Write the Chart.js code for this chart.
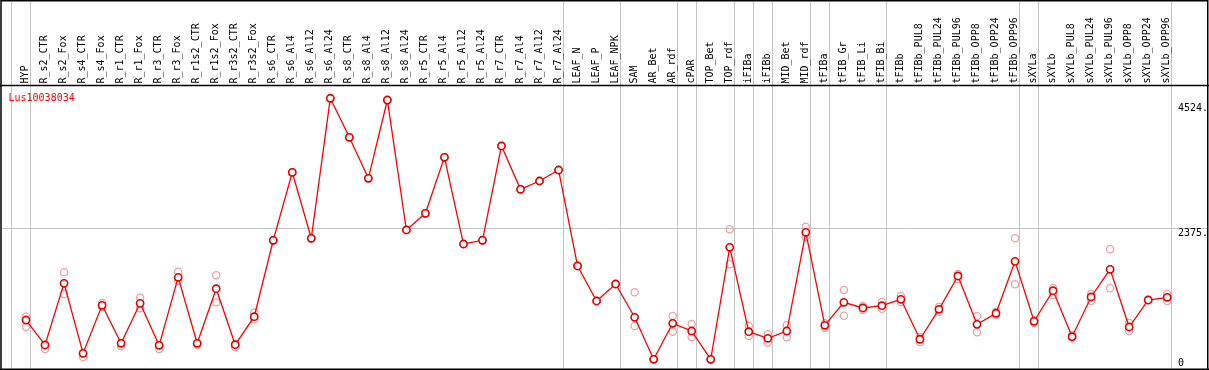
<!DOCTYPE html>
<html><head><meta charset="utf-8">
<script src="https://cdn.jsdelivr.net/npm/chart.js@4/dist/chart.umd.min.js"></script>
<style>html,body{margin:0;padding:0;background:#fff;overflow:hidden}canvas{display:block}</style>
</head><body>
<canvas id="c" width="1209" height="370"></canvas>
<script>
const categories = ['HYP','R_s2_CTR','R_s2_Fox','R_s4_CTR','R_s4_Fox','R_r1_CTR','R_r1_Fox','R_r3_CTR','R_r3_Fox','R_r1s2_CTR','R_r1s2_Fox','R_r3s2_CTR','R_r3s2_Fox','R_s6_CTR','R_s6_Al4','R_s6_Al12','R_s6_Al24','R_s8_CTR','R_s8_Al4','R_s8_Al12','R_s8_Al24','R_r5_CTR','R_r5_Al4','R_r5_Al12','R_r5_Al24','R_r7_CTR','R_r7_Al4','R_r7_Al12','R_r7_Al24','LEAF_N','LEAF_P','LEAF_NPK','SAM','AR_Bet','AR_rdf','cPAR','TOP_Bet','TOP_rdf','iFIBa','iFIBb','MID_Bet','MID_rdf','tFIBa','tFIB_Gr','tFIB_Li','tFIB_Bi','tFIBb','tFIBb_PUL8','tFIBb_PUL24','tFIBb_PUL96','tFIBb_OPP8','tFIBb_OPP24','tFIBb_OPP96','sXYLa','sXYLb','sXYLb_PUL8','sXYLb_PUL24','sXYLb_PUL96','sXYLb_OPP8','sXYLb_OPP24','sXYLb_OPP96'];
const meanValues = [799,370,1430,227,1052,399,1086,364,1533,399,1337,375,856,2170,3338,2204,4611,3940,3235,4581,2347,2634,3596,2106,2170,3791,3046,3189,3378,1728,1126,1418,846,124,743,610,124,2049,598,485,610,2307,708,1104,1006,1045,1155,468,983,1556,725,915,1808,777,1303,512,1195,1671,679,1143,1190];
const rep1 = [856,370,1619,232,1092,404,1183,370,1630,404,1568,387,925,2170,3338,2204,4611,3940,3235,4581,2347,2634,3596,2106,2170,3791,3046,3189,3378,1728,1126,1418,1276,124,868,731,124,2359,696,554,708,2403,743,1315,1040,1109,1212,507,1023,1590,868,937,2204,799,1350,542,1246,2015,748,1143,1246];
const rep2 = [684,301,1246,163,1023,352,1000,301,1475,370,1104,335,811,2170,3338,2204,4611,3940,3235,4581,2347,2634,3596,2106,2170,3791,3046,3189,3378,1728,1126,1418,696,124,598,502,124,1757,524,409,502,2221,667,873,971,994,1109,421,937,1504,588,885,1413,748,1229,490,1126,1344,610,1143,1126];
const groupStarts = [0,1,29,32,35,36,38,39,40,42,43,46,53,54,61];
const gridValues = [2375];
const yTicks = [0, 2375, 4524];
const yTickLabels = ['0', '2375.', '4524.'];
const geneName = 'Lus10038034';

const FONT = '10px "DejaVu Sans Mono", "Liberation Mono", monospace';

const decor = {
  id: 'decor',
  beforeDatasetsDraw(chart) {
    const ctx = chart.ctx, xs = chart.scales.x, ys = chart.scales.y, a = chart.chartArea;
    ctx.save();
    ctx.strokeStyle = '#c4c4c4';
    ctx.lineWidth = 1;
    gridValues.forEach(v => {
      const py = Math.round(ys.getPixelForValue(v)) + 0.5;
      ctx.beginPath(); ctx.moveTo(a.left, py); ctx.lineTo(a.right, py); ctx.stroke();
    });
    groupStarts.forEach(i => {
      const px = Math.round(xs.getPixelForValue(i) - 15) + 0.5;
      ctx.beginPath(); ctx.moveTo(px, 0); ctx.lineTo(px, a.bottom); ctx.stroke();
    });
    ctx.restore();
  },
  afterDraw(chart) {
    const ctx = chart.ctx, xs = chart.scales.x, ys = chart.scales.y, a = chart.chartArea;
    ctx.save();
    ctx.strokeStyle = '#000';
    ctx.lineWidth = 1.5;
    ctx.beginPath();
    ctx.moveTo(1, 0.75); ctx.lineTo(1208, 0.75);
    ctx.moveTo(1, 0); ctx.lineTo(1, 370);
    ctx.moveTo(1207.75, 0); ctx.lineTo(1207.75, 370);
    ctx.moveTo(0, 85.5); ctx.lineTo(1209, 85.5);
    ctx.moveTo(0, 369.25); ctx.lineTo(1209, 369.25);
    ctx.stroke();
    ctx.font = FONT;
    ctx.fillStyle = '#000';
    categories.forEach((c, i) => {
      const px = xs.getPixelForValue(i) + 2;
      ctx.save();
      ctx.translate(px, 83.5);
      ctx.rotate(-Math.PI / 2);
      ctx.textAlign = 'left';
      ctx.textBaseline = 'alphabetic';
      ctx.fillText(c, 0, 0);
      ctx.restore();
    });
    ctx.fillStyle = '#ff0000';
    ctx.textAlign = 'left';
    ctx.textBaseline = 'alphabetic';
    ctx.fillText(geneName, 8.5, 101);
    ctx.fillStyle = '#000';
    ctx.textAlign = 'left';
    yTicks.forEach((v, i) => {
      let by = ys.getPixelForValue(v) + 8;
      if (by > a.bottom - 3.5) by = a.bottom - 3.5;
      ctx.fillText(yTickLabels[i], 1178, by);
    });
    ctx.restore();
  }
};

const pts = arr => arr.map((v, i) => ({ x: i, y: v }));

new Chart(document.getElementById('c'), {
  type: 'line',
  data: {
    datasets: [
      {
        data: pts(meanValues),
        borderColor: '#ff0000',
        borderWidth: 1.3,
        pointRadius: 3.6,
        pointBorderWidth: 1.6,
        pointBorderColor: '#e00000',
        pointBackgroundColor: '#ffffff',
        tension: 0
      },
      {
        data: pts(rep1),
        showLine: false,
        pointRadius: 3.6,
        pointBorderWidth: 1.3,
        pointBorderColor: '#f0a0a0',
        pointBackgroundColor: 'rgba(0,0,0,0)'
      },
      {
        data: pts(rep2),
        showLine: false,
        pointRadius: 3.6,
        pointBorderWidth: 1.3,
        pointBorderColor: '#f0a0a0',
        pointBackgroundColor: 'rgba(0,0,0,0)'
      }
    ]
  },
  options: {
    responsive: false,
    animation: false,
    devicePixelRatio: 1,
    layout: { autoPadding: false, padding: { left: 2, right: 2, top: 86, bottom: 1 } },
    plugins: { legend: { display: false }, tooltip: { enabled: false } },
    scales: {
      x: { type: 'linear', display: false, min: -1.2618, max: 62.093 },
      y: { type: 'linear', display: false, min: -43, max: 4822 }
    }
  },
  plugins: [decor]
});
</script>
</body></html>
